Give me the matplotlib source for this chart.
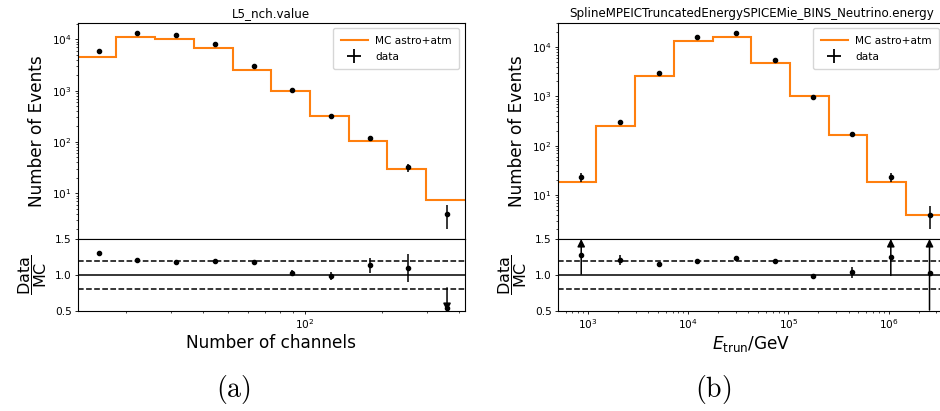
import matplotlib
matplotlib.use('Agg')
import matplotlib.pyplot as plt
from matplotlib.lines import Line2D
import numpy as np

plt.rcParams['mathtext.fontset'] = 'dejavusans'

# bin edges (log spaced)
nch_edges = np.logspace(1.112, 2.624, 11)
energy_edges = np.logspace(2.70, 6.56, 11)

# MC expectation and observed counts per bin
nch_mc = np.array([4460, 11090, 10140, 6680, 2520, 982, 324, 103, 29.2, 7.3])
nch_data = np.array([5830, 13400, 11920, 7980, 2960, 1013, 319, 117, 32, 4])

energy_mc = np.array([18.0, 249, 2600, 13090, 15560, 4630, 995, 164, 18.3, 3.9])
energy_data = np.array([23, 300, 3000, 15580, 19230, 5510, 981, 170, 23, 4])

titles = ['L5_nch.value', 'SplineMPEICTruncatedEnergySPICEMie_BINS_Neutrino.energy']
xlabels = ['Number of channels', r'$E_{\mathrm{trun}}$/GeV']
captions = ['(a)', '(b)']
ylims = [(1.28, 2.08e4), (1.28, 3.06e4)]

W, H = 940, 411
fig = plt.figure(figsize=(W/100, H/100), dpi=100)


def box(x0, x1, y0, y1):
    return [x0/W, 1 - y1/H, (x1 - x0)/W, (y1 - y0)/H]


def style(ax):
    ax.tick_params(which='major', length=2.4, width=0.6, labelsize=7.6, pad=2)
    ax.tick_params(which='minor', length=1.4, width=0.5)
    for s in ax.spines.values():
        s.set_linewidth(0.8)


def arrow(ax, x, y_from, y_to):
    ax.annotate('', xy=(x, y_to), xytext=(x, y_from),
                arrowprops=dict(arrowstyle='-|>', color='k', lw=1.1,
                                mutation_scale=11, shrinkA=0, shrinkB=0))


def panel(x0, edges, mc, data, title, xlabel, caption, ylim):
    ax = fig.add_axes(box(x0, x0 + 387, 23, 239))
    rax = fig.add_axes(box(x0, x0 + 387, 239, 311), sharex=ax)
    style(ax)
    style(rax)

    centers = 0.5 * (edges[:-1] + edges[1:])
    err = np.sqrt(data)

    ax.stairs(mc, edges, baseline=None, color='#ff7f0e', lw=1.5)
    ax.errorbar(centers, data, yerr=err, fmt='o', color='k', ms=3, elinewidth=1.1)
    ax.set_xscale('log')
    ax.set_yscale('log')
    ax.set_xlim(edges[0], edges[-1])
    ax.set_ylim(*ylim)
    ax.set_title(title, fontsize=8.6, pad=4)
    ax.set_ylabel('Number of Events', fontsize=12.2)
    ax.tick_params(axis='x', which='both', bottom=False, labelbottom=False)

    handles = [Line2D([], [], color='#ff7f0e', lw=1.5),
               Line2D([], [], color='k', marker='+', ms=10, mew=1.3, ls='none')]
    ax.legend(handles, ['MC astro+atm', 'data'], loc='upper right', fontsize=7.6,
              handlelength=2.6, borderpad=0.7, labelspacing=0.6, handletextpad=0.7)

    # ratio panel
    ratio = data / mc
    rerr = err / mc
    lo, hi = ratio - rerr, ratio + rerr
    rmin, rmax = 0.5, 1.5
    ok = (hi <= rmax) & (lo >= rmin)
    rax.errorbar(centers[ok], ratio[ok], yerr=rerr[ok], fmt='o', color='k', ms=3, elinewidth=1.1)
    for x, r, l, h in zip(centers[~ok], ratio[~ok], lo[~ok], hi[~ok]):
        if rmin <= r <= rmax:
            rax.plot(x, r, 'o', color='k', ms=3)
        if h > rmax:
            arrow(rax, x, max(l, rmin), rmax)
        if l < rmin:
            arrow(rax, x, min(h, rmax), rmin)
    rax.axhline(1.0, color='k', lw=1.1)
    rax.axhline(1.2, color='k', lw=1.1, ls='--')
    rax.axhline(0.8, color='k', lw=1.1, ls='--')
    rax.set_ylim(rmin, rmax)
    rax.set_yticks([0.5, 1.0, 1.5])
    rax.set_ylabel(r'$\dfrac{\mathrm{Data}}{\mathrm{MC}}$', fontsize=11.5, labelpad=4)
    rax.set_xlabel(xlabel, fontsize=12.2, labelpad=2)

    fig.text((x0 + 387/2 - 38)/W, 1 - 389/H, r'$\mathrm{' + caption + '}$', fontsize=20,
             math_fontfamily='cm', ha='center', va='center')
    return ax, rax


panel(77.7, nch_edges, nch_mc, nch_data, titles[0], xlabels[0], captions[0], ylims[0])
panel(557.7, energy_edges, energy_mc, energy_data, titles[1], xlabels[1], captions[1], ylims[1])

fig.savefig('out.png', dpi=100)
